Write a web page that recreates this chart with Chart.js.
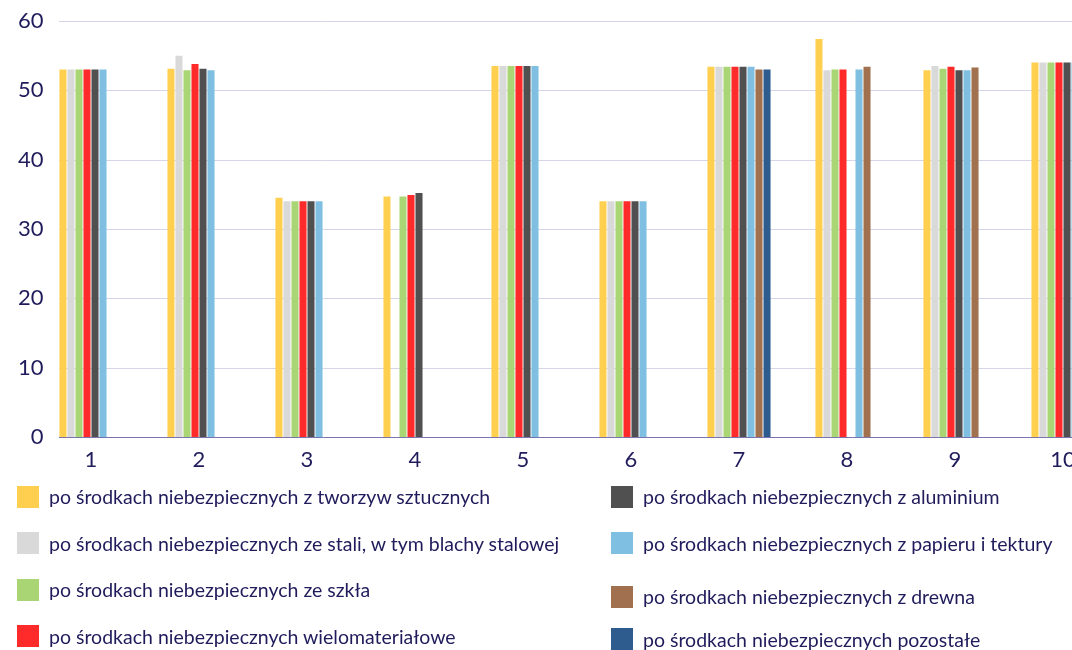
<!DOCTYPE html>
<html lang="pl">
<head>
<meta charset="utf-8">
<script src="https://cdn.jsdelivr.net/npm/chart.js@4/dist/chart.umd.min.js"></script>
<style>
  html, body { margin:0; padding:0; background:#fff; }
  body { width:1072px; height:650px; overflow:hidden; position:relative; font-family:Lato, sans-serif; }
  #wrap { position:absolute; left:0; top:0; width:1117px; height:480px; }
  #legend { position:absolute; left:0; top:0; width:1072px; height:650px; pointer-events:none; }
  .item { position:absolute; display:flex; align-items:center; font-size:19.5px; color:#201c5c; white-space:nowrap; }
  .item i { display:inline-block; width:22px; height:22px; margin-right:10px; }
</style>
</head>
<body>
<div id="wrap"><canvas id="chart"></canvas></div>
<div id="legend"></div>
<script>
const categories = ['1','2','3','4','5','6','7','8','9','10'];
const yTicks = [0, 10, 20, 30, 40, 50, 60];

const seriesNames = [
  'po środkach niebezpiecznych z tworzyw sztucznych',
  'po środkach niebezpiecznych ze stali, w tym blachy stalowej',
  'po środkach niebezpiecznych ze szkła',
  'po środkach niebezpiecznych wielomateriałowe',
  'po środkach niebezpiecznych z aluminium',
  'po środkach niebezpiecznych z papieru i tektury',
  'po środkach niebezpiecznych z drewna',
  'po środkach niebezpiecznych pozostałe'
];
const seriesColors = ['#ffd04f','#d9d9d9','#a9d574','#ff2a2a','#505050','#7fbfe2','#a0704f','#2e5c8f'];

const plastic   = [53, 53.1, 34.5, 34.7, 53.5, 34, 53.4, 57.4, 52.9, 54];
const steel     = [53, 55,   34,   null, 53.5, 34, 53.4, 52.9, 53.5, 54];
const glass     = [53, 52.9, 34,   34.7, 53.5, 34, 53.4, 53,   53.1, 54];
const multi     = [53, 53.8, 34,   34.9, 53.5, 34, 53.4, 53,   53.4, 54];
const aluminium = [53, 53.1, 34,   35.2, 53.5, 34, 53.4, null, 52.9, 54];
const paper     = [53, 52.9, 34,   null, 53.5, 34, 53.4, 53,   52.9, 54];
const wood      = [null, null, null, null, null, null, 53, 53.4, 53.3, null];
const other     = [null, null, null, null, null, null, 53, null, null, null];

const seriesData = [plastic, steel, glass, multi, aluminium, paper, wood, other];

const TEXT = '#201c5c';
const CAT_PCT = 0.593;

// grid lines start at the first bar group, like the original
const gridFromBars = {
  id: 'gridFromBars',
  beforeDatasetsDraw(chart){
    const {ctx, chartArea, scales:{x, y}} = chart;
    const step = x.getPixelForValue(1) - x.getPixelForValue(0);
    const left = x.getPixelForValue(0) - step*CAT_PCT/2;
    ctx.save();
    ctx.lineWidth = 1;
    y.ticks.forEach(t => {
      const py = Math.round(y.getPixelForValue(t.value)) + 0.5;
      ctx.strokeStyle = t.value === 0 ? '#7b72b0' : '#d5d5e8';
      ctx.beginPath(); ctx.moveTo(left, py); ctx.lineTo(chartArea.right, py); ctx.stroke();
    });
    ctx.restore();
  }
};

new Chart(document.getElementById('chart'), {
  type: 'bar',
  data: {
    labels: categories,
    datasets: seriesNames.map((name, i) => ({
      label: name,
      data: seriesData[i],
      backgroundColor: seriesColors[i],
      borderWidth: 0,
      barPercentage: 0.88,
      categoryPercentage: CAT_PCT
    }))
  },
  options: {
    responsive: true,
    maintainAspectRatio: false,
    animation: false,
    layout: { padding: { top: 21, bottom: 3, left: 0, right: 0 } },
    plugins: { legend: { display: false }, tooltip: { enabled: false } },
    scales: {
      x: {
        grid: { display: false, drawTicks: false },
        border: { display: false },
        ticks: { color: TEXT, font: { family: 'Lato', size: 22 }, padding: 10 },
        afterFit(s){ s.height = 40; }
      },
      y: {
        min: 0, max: 60,
        afterBuildTicks(s){ s.ticks = yTicks.map(v => ({ value: v })); },
        grid: { display: false, drawTicks: false },
        border: { display: false },
        // mirrored so the labels are not clipped to the narrow axis box
        ticks: { color: TEXT, font: { family: 'Lato', size: 22 }, mirror: true, crossAlign: 'far', padding: -19 },
        afterFit(s){ s.width = 37; }
      }
    }
  },
  plugins: [gridFromBars]
});

// legend: two columns of four
const legend = document.getElementById('legend');
const rightColShift = [0, 0, 7, 3];
seriesNames.forEach((name, i) => {
  const col = Math.floor(i / 4), row = i % 4;
  const el = document.createElement('div');
  el.className = 'item';
  el.style.left = (col ? 611 : 17) + 'px';
  el.style.top = (485 + row*46.5 + (col ? rightColShift[row] : 0)) + 'px';
  el.innerHTML = '<i style="background:' + seriesColors[i] + '"></i>' + name;
  legend.appendChild(el);
});
</script>
</body>
</html>
